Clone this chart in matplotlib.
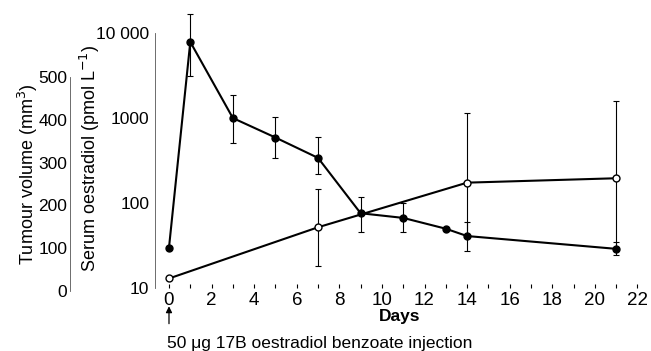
import numpy as np
import matplotlib
matplotlib.use("Agg")
import matplotlib.pyplot as plt

plt.rcParams["font.family"] = ["Liberation Sans", "DejaVu Sans"]

nan = np.nan

# serum oestradiol, filled circles
days_filled = [0, 1, 3, 5, 7, 9, 11, 13, 14, 21]
e2_filled = [30, 7850, 1000, 590, 340, 76, 67, 50, 41, 29]
e2_filled_low = [nan, 3160, 510, 340, 220, 46, 46, nan, 27, 24.5]
e2_filled_high = [nan, 16600, 1870, 1030, 600, 117, 100, nan, 60, 35]

# open circles
days_open = [0, 7, 14, 21]
e2_open = [13, 52, 174, 196]
e2_open_low = [nan, 18, 40, 30]
e2_open_high = [nan, 148, 1135, 1570]

tumour_ticks = [0, 100, 200, 300, 400, 500]
log_ticks = [10, 100, 1000, 10000]
log_labels = ["10", "100", "1000", "10 000"]
day_ticks = list(range(0, 23, 2))

fig = plt.figure(figsize=(6.51, 3.51), dpi=100)
ax = fig.add_axes([0.238, 0.179, 0.751, 0.727])


def draw(x, y, lo, hi, face, size):
    y = np.array(y, float)
    err = np.array([y - np.array(lo, float), np.array(hi, float) - y])
    err = np.nan_to_num(err)
    ax.errorbar(x, y, yerr=err, fmt="none", ecolor="black", elinewidth=0.8,
                capsize=2.5, capthick=0.8, clip_on=False, zorder=2)
    ax.plot(x, y, color="black", lw=1.5, marker="o", ms=size,
            mfc=face, mec="black", mew=1.0, clip_on=False, zorder=3)


draw(days_open, e2_open, e2_open_low, e2_open_high, "white", 5)
draw(days_filled, e2_filled, e2_filled_low, e2_filled_high, "black", 5)

ax.set_yscale("log")
ax.set_ylim(10, 10000)
ax.set_xlim(-0.66, 22.3)
ax.set_yticks(log_ticks)
ax.set_yticklabels(log_labels)
ax.yaxis.set_minor_locator(matplotlib.ticker.NullLocator())
ax.set_xticks(day_ticks)
ax.set_xticks(range(0, 23), minor=True)
ax.tick_params(axis="x", which="both", direction="in", length=3, width=0.8,
               labelsize=13.5, pad=3)
ax.tick_params(axis="y", length=0, labelsize=12.5, pad=4)
for s in ["top", "right", "bottom"]:
    ax.spines[s].set_visible(False)
ax.spines["left"].set_linewidth(0.6)
ax.spines["left"].set_color("#555555")
ax.set_xlabel("Days", fontsize=12.5, fontweight="bold", labelpad=0)
ax.set_ylabel("Serum oestradiol (pmol L$^{-1}$)", fontsize=13)
ax.yaxis.set_label_coords(0.157, 0.55, transform=fig.transFigure)

# tumour volume axis (no data shown)
ax2 = fig.add_axes([0.1075, 0.171, 0.001, 0.61])
ax2.set_ylim(0, 500)
ax2.set_yticks(tumour_ticks)
ax2.set_xticks([])
ax2.tick_params(axis="y", length=0, labelsize=12.5, pad=2)
for s in ["top", "right", "bottom"]:
    ax2.spines[s].set_visible(False)
ax2.spines["left"].set_linewidth(0.6)
ax2.spines["left"].set_color("#555555")
ax2.set_ylabel("Tumour volume (mm$^3$)", fontsize=13)
ax2.yaxis.set_label_coords(0.062, 0.503, transform=fig.transFigure)
ax2.patch.set_visible(False)

# injection annotation
blend = matplotlib.transforms.blended_transform_factory(ax.transData, ax.transAxes)
ax.annotate("", xy=(0, -0.06), xycoords=blend,
            xytext=(0, -0.15), textcoords=blend,
            arrowprops=dict(arrowstyle="-|>", color="black", lw=0.9,
                            mutation_scale=9))
ax.text(-0.1, -0.215, "50 μg 17B oestradiol benzoate injection",
        transform=blend, fontsize=12.5, va="center", ha="left")

fig.savefig("out.png", dpi=100)
